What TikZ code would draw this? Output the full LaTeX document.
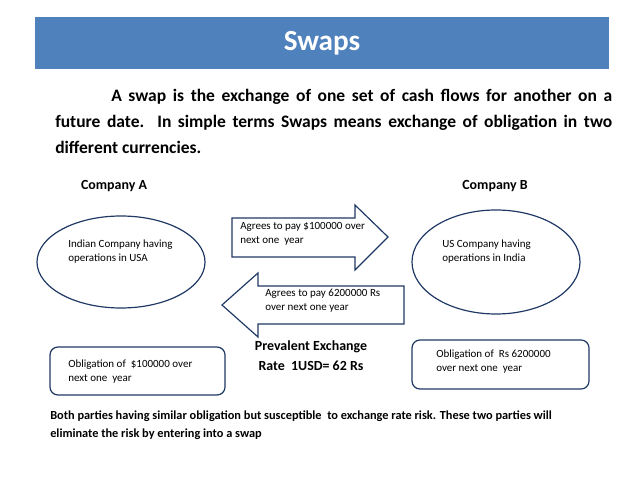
\documentclass[tikz,border=0pt]{standalone}
\usepackage{fontspec}
\setmainfont{Carlito}
\definecolor{titleblue}{HTML}{4F81BD}
\definecolor{navy}{HTML}{1F3864}
\begin{document}
\begin{tikzpicture}[x=0.0265cm, y=-0.0265cm,
        obox/.style={draw=navy, line width=0.9pt, rounded corners=6pt},
        small/.style={font=\fontsize{8.3}{10.5}\selectfont, align=left, anchor=north west, inner sep=0pt},
        head/.style={font=\fontsize{10.5}{13}\selectfont\bfseries}
    ]
        \useasboundingbox (0,0) rectangle (638,479);
        % title bar
        \fill[titleblue] (35,17) rectangle (609,69);
        \node[text=white, font=\fontsize{22}{26}\selectfont\bfseries] (title) at (322,43) {Swaps};
        \node[anchor=north west, inner sep=0pt, text width=557*0.0265cm, align=justify,
              font=\fontsize{13.2}{19.5}\selectfont\bfseries] (intro) at (55,89)
            {\hyphenpenalty=10000\hspace*{3.2em}A swap is the exchange of one set of cash flows for another on a\linebreak future date. In simple terms Swaps means exchange of obligation in two\linebreak different currencies.};
        \node[head] (compA) at (114,186) {Company A};
        \node[head] (compB) at (495,186) {Company B};
        % companies
        \draw[navy, line width=0.9pt] (121,262) ellipse (84 and 46);
        \draw[navy, line width=0.9pt] (496,262) ellipse (84 and 52);
        \node[small] (indian) at (68,240) {Indian Company having\\operations in USA};
        \node[small] (us) at (442,240) {US Company having\\operations in India};
        % arrows
        \draw[navy, line width=0.9pt] (232,218) -- (355,218) -- (355,205) -- (388,237) -- (355,270) -- (355,257) -- (232,257) -- cycle;
        \node[small] (payA) at (240,222) {Agrees to pay \$100000 over\\next one\ \ year};
        \draw[navy, line width=0.9pt] (404,286) -- (258,286) -- (258,273) -- (222,305) -- (258,337) -- (258,324) -- (404,324) -- cycle;
        \node[small] (payB) at (265,289) {Agrees to pay 6200000 Rs\\over next one year};
        \node[font=\fontsize{10.5}{15}\selectfont\bfseries, align=center] (rate) at (311,356) {Prevalent Exchange\\Rate\ \ 1USD= 62 Rs};
        % obligations
        \draw[obox] (50,347) rectangle (225,395);
        \node[small] (oblA) at (68,360) {Obligation of\ \ \$100000 over\\next one\ \ year};
        \draw[obox] (412,340) rectangle (589,389);
        \node[small] (oblB) at (436,350) {Obligation of\ \ Rs 6200000\\over next one\ \ year};
        \node[anchor=north west, inner sep=0pt, align=left, font=\fontsize{9.3}{13}\selectfont\bfseries] (note) at (50,411)
            {Both parties having similar obligation but susceptible\ \ to exchange rate risk. These two parties will\\eliminate the risk by entering into a swap};
    \end{tikzpicture}
\end{document}
